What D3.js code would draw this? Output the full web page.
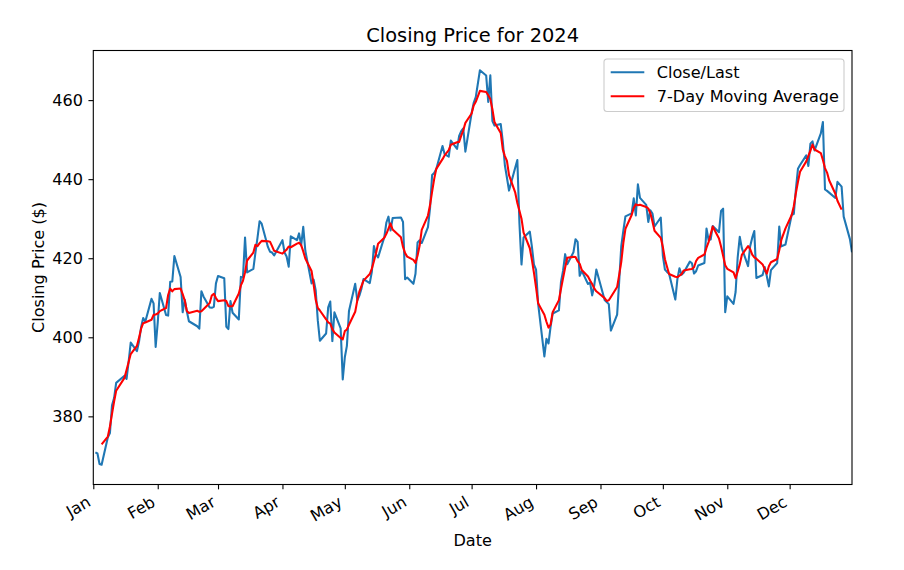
<!DOCTYPE html>
<html>
<head>
<meta charset="utf-8">
<script src="https://cdn.jsdelivr.net/npm/d3@7"></script>
<style>
  body { margin: 0; background: #fff; }
  svg { display: block; font-family: "DejaVu Sans", sans-serif; }
</style>
</head>
<body>
<div id="chart"></div>
<script>
// closing prices per month, one value per trading day
const closeJan = [370.87, 370.60, 367.94, 367.75, 374.69, 375.79, 382.77, 384.63, 388.47, 390.27, 389.47, 393.87, 398.67, 396.51, 398.90, 402.56, 404.87, 403.93, 409.72, 408.59, 397.58];
const closeFeb = [403.78, 411.22, 405.65, 405.49, 414.05, 414.11, 420.55, 415.26, 406.32, 409.49, 406.56, 404.06, 402.79, 402.18, 411.65, 410.34, 407.54, 407.48, 407.72, 413.64];
const closeMar = [415.50, 414.92, 402.65, 402.09, 409.14, 406.22, 404.52, 415.28, 415.10, 425.22, 416.42, 417.32, 421.41, 425.23, 429.37, 428.74, 422.86, 421.65, 421.43, 420.72];
const closeApr = [424.57, 421.44, 420.45, 417.88, 425.52, 424.59, 426.28, 423.26, 427.93, 421.90, 413.64, 414.58, 411.84, 404.27, 399.12, 400.96, 407.57, 409.06, 399.04, 406.32, 402.25, 389.33];
const closeMay = [394.94, 397.84, 406.66, 413.54, 409.34, 410.54, 412.32, 414.74, 413.72, 416.56, 423.08, 420.99, 420.21, 425.34, 429.04, 430.52, 427.00, 430.16, 430.32, 429.17, 414.67, 415.13];
const closeJun = [413.52, 416.07, 424.01, 424.52, 423.85, 427.87, 432.68, 441.06, 441.58, 442.57, 448.37, 446.34, 445.70, 449.78, 447.67, 450.95, 452.16, 452.85, 446.95];
const closeJul = [456.73, 459.28, 460.77, 467.56, 466.24, 459.54, 466.25, 454.70, 453.55, 453.96, 449.52, 443.52, 440.37, 437.11, 442.94, 444.85, 428.90, 418.40, 425.27, 426.73, 422.92, 418.35];
const closeAug = [417.11, 408.49, 395.15, 399.61, 398.43, 402.69, 406.02, 406.81, 414.01, 416.86, 421.03, 418.47, 421.53, 424.80, 424.14, 415.55, 416.79, 413.49, 413.84, 410.60, 413.12, 417.14];
const closeSep = [409.44, 408.90, 408.39, 401.70, 405.72, 414.20, 423.04, 427.00, 430.59, 431.34, 435.15, 430.81, 438.69, 435.27, 433.51, 429.17, 432.11, 431.31, 428.02, 430.30];
const closeOct = [420.69, 417.13, 416.54, 416.06, 409.54, 414.71, 417.46, 415.84, 416.32, 419.14, 418.74, 416.12, 416.72, 418.16, 418.78, 427.51, 424.60, 424.73, 428.15, 426.59, 431.95, 432.53, 406.35];
const closeNov = [410.37, 408.46, 411.46, 420.18, 425.43, 422.54, 418.01, 423.03, 425.20, 426.89, 415.00, 415.76, 417.79, 415.49, 412.87, 417.00, 418.79, 427.99, 422.99, 423.46];
const closeDec = [430.98, 431.20, 437.42, 442.62, 443.57, 446.02, 443.33, 448.99, 449.56, 447.27, 451.59, 454.46, 437.39, 437.03, 436.60, 435.25, 439.33, 438.11, 430.53, 424.83, 421.50];

// market holidays (no trading)
const holidays = ["2024-01-01", "2024-01-15", "2024-02-19", "2024-03-29", "2024-05-27",
                  "2024-06-19", "2024-07-04", "2024-09-02", "2024-11-28", "2024-12-25"];
const monthLabels = ["Jan", "Feb", "Mar", "Apr", "May", "Jun", "Jul", "Aug", "Sep", "Oct", "Nov", "Dec"];
const yTicks = [380, 400, 420, 440, 460];
const seriesNames = ["Close/Last", "7-Day Moving Average"];
const seriesColors = ["#1f77b4", "#ff0000"];

const W = 904, H = 570;
const margin = { left: 93.3, right: 852, top: 50.5, bottom: 484.5 };
const fs = 16.1;           // tick / label font size
const fmt = d3.timeFormat("%Y-%m-%d");

// trading days of 2024
const tradingDays = d3.timeDay.range(new Date(2024, 0, 1), new Date(2025, 0, 1))
    .filter(d => d.getDay() !== 0 && d.getDay() !== 6 && !holidays.includes(fmt(d)));

const closes = [].concat(closeJan, closeFeb, closeMar, closeApr, closeMay, closeJun,
                         closeJul, closeAug, closeSep, closeOct, closeNov, closeDec);
const data = tradingDays.map((d, i) => ({ date: d, close: closes[i] }));

// centred 7-day rolling mean (pandas rolling(7, center=True))
const ma = [];
for (let i = 3; i < data.length - 3; i++) {
    ma.push({ date: data[i].date, value: d3.mean(data.slice(i - 3, i + 4), d => d.close) });
}

const svg = d3.select("#chart").append("svg")
    .attr("width", W).attr("height", H);

const x = d3.scaleTime()
    .domain([new Date(2024, 0, 1), new Date(2024, 11, 31)])
    .range([margin.left, margin.right]);
const yMin = d3.min(closes), yMax = d3.max(closes), pad = (yMax - yMin) * 0.05;
const y = d3.scaleLinear()
    .domain([yMin - pad, yMax + pad])
    .range([margin.bottom, margin.top]);

svg.append("clipPath").attr("id", "plotclip")
    .append("rect")
    .attr("x", margin.left).attr("y", margin.top)
    .attr("width", margin.right - margin.left).attr("height", margin.bottom - margin.top);

// lines
const plot = svg.append("g").attr("clip-path", "url(#plotclip)");
plot.append("path")
    .datum(data)
    .attr("fill", "none")
    .attr("stroke", seriesColors[0])
    .attr("stroke-width", 2.08)
    .attr("stroke-linejoin", "round")
    .attr("d", d3.line().x(d => x(d.date)).y(d => y(d.close)));
plot.append("path")
    .datum(ma)
    .attr("fill", "none")
    .attr("stroke", seriesColors[1])
    .attr("stroke-width", 2.08)
    .attr("stroke-linejoin", "round")
    .attr("d", d3.line().x(d => x(d.date)).y(d => y(d.value)));

// frame
svg.append("rect")
    .attr("x", margin.left).attr("y", margin.top)
    .attr("width", margin.right - margin.left).attr("height", margin.bottom - margin.top)
    .attr("fill", "none").attr("stroke", "#000").attr("stroke-width", 1.1);

// x axis
const monthStarts = monthLabels.map((m, i) => new Date(2024, i, 1));
const xAxis = svg.append("g")
    .attr("transform", `translate(0,${margin.bottom})`)
    .call(d3.axisBottom(x).tickValues(monthStarts).tickFormat((d, i) => monthLabels[i])
        .tickSize(4.86).tickPadding(0));
xAxis.select(".domain").remove();
xAxis.selectAll(".tick line").attr("stroke", "#000").attr("stroke-width", 1.1);
xAxis.selectAll(".tick text")
    .attr("font-size", fs)
    .attr("font-family", "DejaVu Sans")
    .attr("fill", "#000")
    .attr("text-anchor", "end")
    .attr("y", null).attr("dy", null)
    .attr("transform", "translate(-8,10.2) rotate(-30) translate(0,12.2)");

// y axis
const yAxis = svg.append("g")
    .attr("transform", `translate(${margin.left},0)`)
    .call(d3.axisLeft(y).tickValues(yTicks).tickSize(4.86).tickPadding(5.5));
yAxis.select(".domain").remove();
yAxis.selectAll(".tick line").attr("stroke", "#000").attr("stroke-width", 1.1);
yAxis.selectAll(".tick text")
    .attr("font-size", fs)
    .attr("font-family", "DejaVu Sans")
    .attr("fill", "#000");

// labels
const cx = (margin.left + margin.right) / 2;
svg.append("text")
    .attr("x", cx).attr("y", 42)
    .attr("text-anchor", "middle")
    .attr("font-size", 19.4)
    .text("Closing Price for 2024");
svg.append("text")
    .attr("x", cx).attr("y", 546)
    .attr("text-anchor", "middle")
    .attr("font-size", fs)
    .text("Date");
svg.append("text")
    .attr("transform", `translate(44,${(margin.top + margin.bottom) / 2}) rotate(-90)`)
    .attr("text-anchor", "middle")
    .attr("font-size", fs)
    .text("Closing Price ($)");

// legend
const legend = svg.append("g").attr("transform", "translate(604,59)");
legend.append("rect")
    .attr("width", 240).attr("height", 52.5)
    .attr("rx", 3).attr("ry", 3)
    .attr("fill", "#fff").attr("fill-opacity", 0.8)
    .attr("stroke", "#cccccc").attr("stroke-width", 1.1);
seriesNames.forEach((name, i) => {
    const ly = 13.3 + i * 24;
    legend.append("line")
        .attr("x1", 6.7).attr("x2", 40.3)
        .attr("y1", ly).attr("y2", ly)
        .attr("stroke", seriesColors[i]).attr("stroke-width", 2.08);
    legend.append("text")
        .attr("x", 52.7).attr("y", ly + 5.8)
        .attr("font-size", fs)
        .text(name);
});
</script>
</body>
</html>
